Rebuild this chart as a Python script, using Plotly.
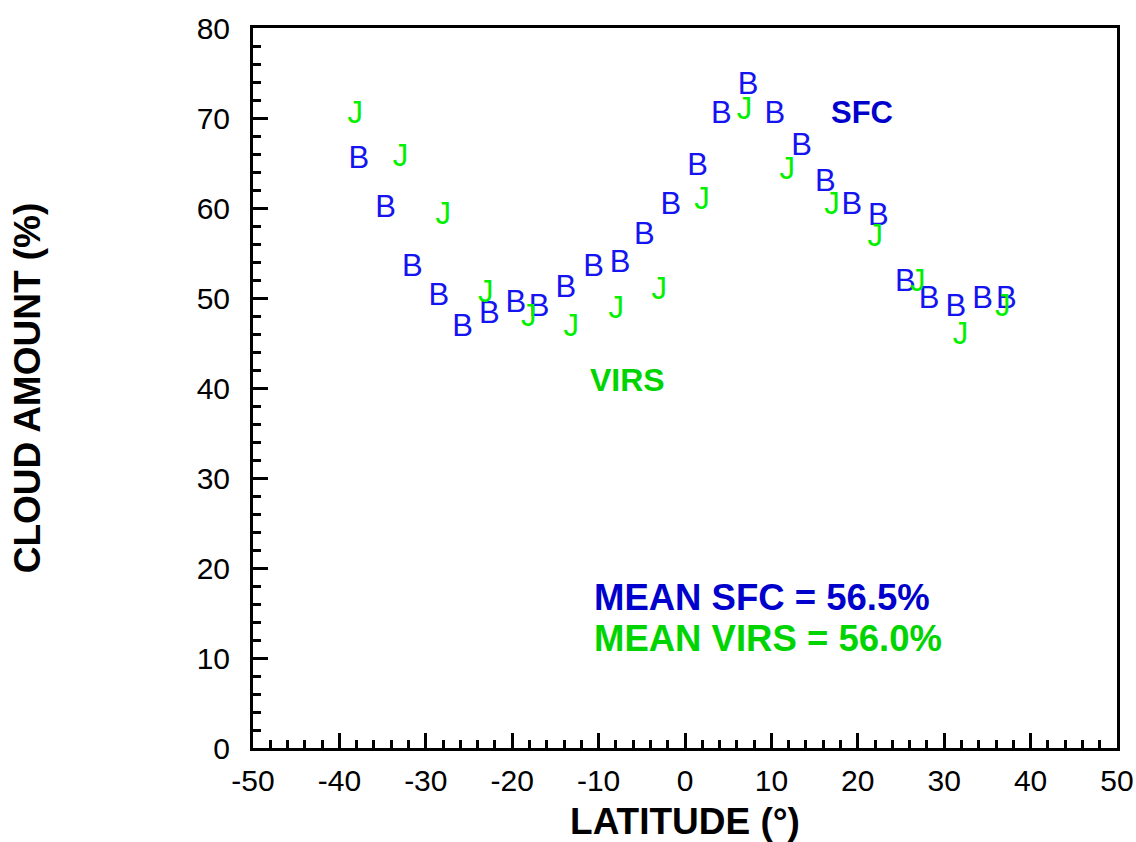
import plotly.graph_objects as go

# SFC series (B markers)
sfc_lat = [-37.75, -34.66, -31.57, -28.50, -25.75, -22.66, -19.58, -16.88, -13.80, -10.59,
           -7.50, -4.72, -1.64, 1.45, 4.22, 7.31, 10.39, 13.5, 16.23, 19.31,
           22.37, 25.49, 28.26, 31.34, 34.43, 37.18]
sfc_val = [65.3, 59.9, 53.3, 50.1, 46.6, 48.1, 49.3, 48.9, 51.0, 53.3,
           53.7, 56.9, 60.2, 64.5, 70.3, 73.5, 70.3, 66.7, 62.8, 60.2,
           59.0, 51.6, 49.8, 48.9, 49.8, 49.8]

# VIRS series (J markers)
virs_lat = [-38.16, -32.93, -27.97, -23.06, -18.09, -13.17, -7.96, -2.99,
            1.97, 6.89, 11.83, 17.01, 22.03, 26.94, 31.89, 36.78]
virs_val = [70.3, 65.5, 59.1, 50.4, 47.7, 46.6, 48.6, 50.7,
            60.8, 70.8, 64.1, 60.2, 56.6, 51.6, 45.7, 48.9]

x_ticks = [-50, -40, -30, -20, -10, 0, 10, 20, 30, 40, 50]
y_ticks = [0, 10, 20, 30, 40, 50, 60, 70, 80]

FONT = "Liberation Sans, Arial, Helvetica, sans-serif"
BLUE_M = "#1414F0"
GREEN_M = "#00F000"
BLUE_T = "#0000CC"
GREEN_T = "#00D400"

fig = go.Figure()
fig.add_trace(go.Scatter(x=sfc_lat, y=sfc_val, mode="text", text=["B"] * len(sfc_lat),
                         textposition="middle center",
                         textfont=dict(family=FONT, size=31, color=BLUE_M),
                         showlegend=False, hoverinfo="x+y"))
fig.add_trace(go.Scatter(x=virs_lat, y=virs_val, mode="text", text=["J"] * len(virs_lat),
                         textposition="middle center",
                         textfont=dict(family=FONT, size=31, color=GREEN_M),
                         showlegend=False, hoverinfo="x+y"))

annos = [
    dict(x=20.5, y=70.6, text="<b>SFC</b>", color=BLUE_T, size=31, xanchor="center"),
    dict(x=-6.6, y=40.9, text="<b>VIRS</b>", color=GREEN_T, size=32, xanchor="center"),
    dict(x=-10.8, y=16.7, text="<b>MEAN SFC = 56.5%</b>", color=BLUE_T, size=36.5, xanchor="left"),
    dict(x=-10.8, y=12.2, text="<b>MEAN VIRS = 56.0%</b>", color=GREEN_T, size=36.5, xanchor="left"),
]
for a in annos:
    fig.add_annotation(x=a["x"], y=a["y"], text=a["text"], showarrow=False,
                       xanchor=a["xanchor"], yanchor="middle",
                       font=dict(family=FONT, size=a["size"], color=a["color"]))

axis_common = dict(
    showgrid=False, zeroline=False, showline=True, linecolor="black", linewidth=3,
    mirror=True, ticks="inside", ticklen=15, tickwidth=3, tickcolor="black",
    tickfont=dict(family=FONT, size=30, color="black"),
)
fig.update_xaxes(range=[-50, 50], tickmode="array", tickvals=x_ticks,
                 ticktext=[str(v) for v in x_ticks], ticklabelstandoff=4,
                 minor=dict(ticks="inside", ticklen=8, tickwidth=3, tickcolor="black", dtick=2),
                 title=dict(text="<b>LATITUDE (°)</b>", font=dict(family=FONT, size=37, color="black"), standoff=14),
                 **axis_common)
fig.update_yaxes(range=[0, 80], tickmode="array", tickvals=y_ticks,
                 ticktext=[str(v) for v in y_ticks], ticklabelstandoff=14,
                 minor=dict(ticks="inside", ticklen=8, tickwidth=3, tickcolor="black", dtick=2),
                 title=dict(text="<b>CLOUD AMOUNT (%)</b>", font=dict(family=FONT, size=37, color="black"), standoff=145),
                 **axis_common)

fig.update_layout(width=1136, height=842, margin=dict(l=253, r=19, t=28, b=94, autoexpand=False),
                  plot_bgcolor="white", paper_bgcolor="white")

# remove the page's default body margin so the figure fills the window exactly
fig.write_html("out.html", config={"displayModeBar": False},
               post_script="document.body.style.margin='0';document.body.style.overflow='hidden';")
